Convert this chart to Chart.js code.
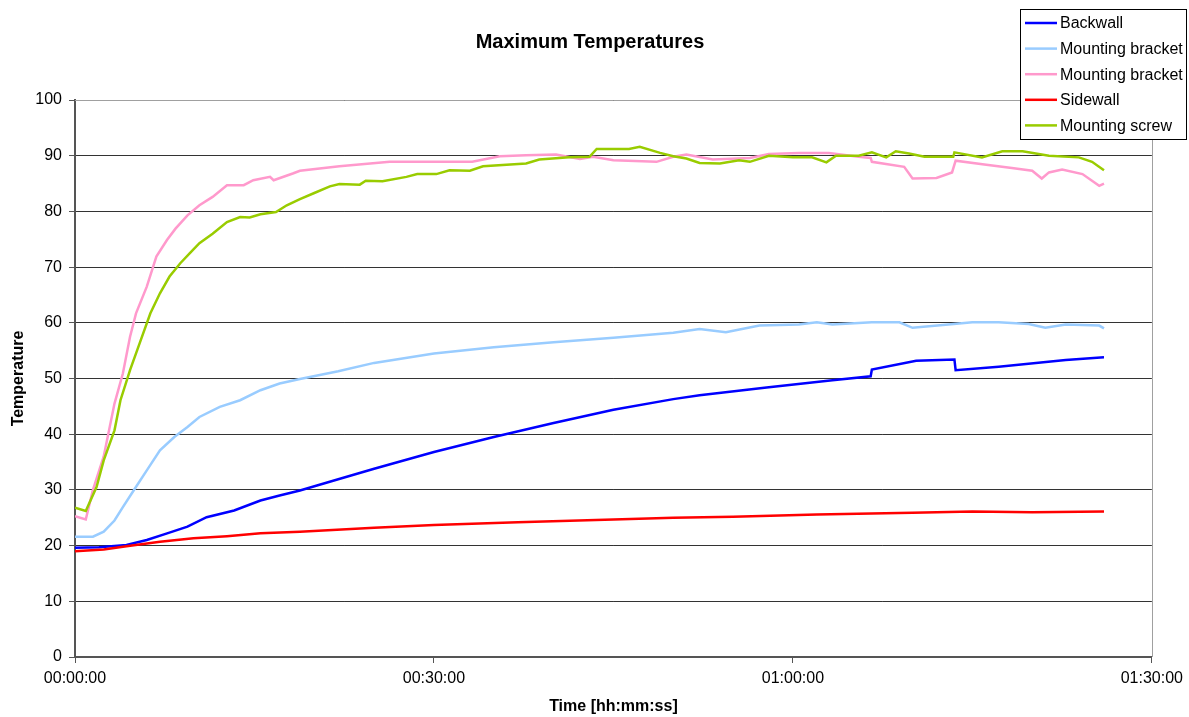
<!DOCTYPE html>
<html>
<head>
<meta charset="utf-8">
<script src="https://cdn.jsdelivr.net/npm/chart.js@4.4.1/dist/chart.umd.min.js"></script>
<style>
  html, body { margin: 0; padding: 0; background: #fff; }
  #wrap { width: 1189px; height: 717px; position: relative; }
</style>
</head>
<body>
<div id="wrap"><canvas id="chart"></canvas></div>
<script>
// time in minutes, temperatures
const backwallT = [0, 2, 4.3, 6, 7.7, 9.4, 11, 13.3, 15.5, 17.1, 18.8, 22, 25, 30, 35, 40, 45, 50, 52.2, 57.8, 63.3, 66.5, 66.6, 70.3, 73.5, 73.6, 77.2, 82.8, 86];
const backwallY = [19.6, 19.7, 20.1, 21.0, 22.2, 23.4, 25.1, 26.3, 28.1, 29.0, 29.9, 31.9, 33.8, 36.8, 39.5, 42, 44.4, 46.3, 47.0, 48.4, 49.7, 50.4, 51.6, 53.2, 53.4, 51.5, 52.1, 53.3, 53.8];

const bracket1T = [0, 1.5, 2.4, 3.3, 4.0, 4.9, 6.0, 7.1, 8.3, 9.4, 10.4, 12.1, 13.8, 15.5, 17.1, 18.8, 22, 25, 30, 35, 40, 45, 50, 52.2, 54.4, 57.2, 60.5, 62, 63.3, 66.6, 68.9, 70, 73, 75, 77.2, 79.7, 81.1, 82.8, 85.6, 86];
const bracket1Y = [21.6, 21.6, 22.5, 24.5, 26.9, 29.9, 33.5, 37.1, 39.5, 41.3, 43.1, 44.9, 46.1, 47.9, 49.1, 49.9, 51.3, 52.8, 54.5, 55.6, 56.5, 57.3, 58.2, 58.9, 58.3, 59.5, 59.7, 60.1, 59.7, 60.1, 60.1, 59.1, 59.7, 60.1, 60.1, 59.8, 59.1, 59.7, 59.5, 59.0];

const bracket2T = [0, 0.9, 1.5, 2.4, 3.3, 4.0, 4.6, 5.1, 6.0, 6.8, 7.7, 8.4, 9.4, 10.4, 11.5, 12.7, 14.1, 14.9, 16.3, 16.6, 18.2, 18.8, 22.1, 26.3, 33.2, 35.5, 37.7, 40.2, 42.2, 43.3, 45, 48.6, 50, 51.1, 53.3, 56.4, 58, 60.5, 63, 65.5, 66.5, 66.6, 69.3, 70, 72, 73.3, 73.6, 76, 78.3, 80, 80.8, 81.4, 82.5, 84.2, 85.6, 86];
const bracket2Y = [25.3, 24.7, 30, 36, 45.5, 50.9, 57.5, 61.7, 66.5, 71.9, 74.9, 76.9, 79.3, 81.1, 82.6, 84.7, 84.7, 85.6, 86.2, 85.6, 86.8, 87.3, 88.1, 88.9, 88.9, 89.9, 90.1, 90.2, 89.4, 89.8, 89.2, 88.9, 89.8, 90.2, 89.3, 89.6, 90.3, 90.5, 90.5, 89.8, 89.6, 88.9, 88.0, 85.9, 86.0, 87.0, 89.1, 88.4, 87.8, 87.3, 85.9, 87.0, 87.5, 86.7, 84.6, 85.0];

const sidewallT = [0, 2.4, 4.3, 7.1, 9.9, 12.7, 15.5, 18.8, 25, 30, 37, 45, 50, 55, 62, 70, 75, 80, 86];
const sidewallY = [19.0, 19.3, 19.9, 20.7, 21.3, 21.7, 22.2, 22.5, 23.2, 23.7, 24.2, 24.7, 25.0, 25.2, 25.6, 25.9, 26.1, 26.0, 26.1];

const screwT = [0, 0.9, 1.8, 2.4, 3.3, 3.8, 4.6, 5.4, 6.3, 7.1, 7.9, 8.8, 9.6, 10.4, 11.5, 12.7, 13.8, 14.6, 15.5, 16.8, 17.7, 18.8, 20, 21.3, 22.1, 23.8, 24.3, 25.7, 27.7, 28.6, 30.2, 31.3, 33, 34.1, 37.7, 38.8, 41.3, 43, 43.6, 46.3, 47.2, 48.9, 50, 51.1, 52.2, 53.9, 55.5, 56.4, 58, 60, 61.6, 62.8, 63.6, 65.5, 66.6, 67.8, 68.6, 69.7, 71, 73.4, 73.5, 75.8, 77.5, 79.2, 81.4, 83.9, 85, 86];
const screwY = [26.8, 26.2, 30.5, 35.3, 40.7, 46.1, 51.5, 56.3, 61.7, 65.3, 68.3, 70.7, 72.5, 74.3, 76.0, 78.1, 79.0, 78.9, 79.5, 79.9, 81.1, 82.2, 83.3, 84.5, 84.9, 84.8, 85.5, 85.4, 86.2, 86.7, 86.7, 87.4, 87.3, 88.1, 88.6, 89.3, 89.7, 89.8, 91.2, 91.2, 91.6, 90.5, 89.9, 89.5, 88.7, 88.6, 89.2, 88.9, 90, 89.7, 89.7, 88.8, 90, 90, 90.6, 89.7, 90.8, 90.4, 89.8, 89.8, 90.6, 89.7, 90.8, 90.8, 90, 89.7, 88.9, 87.4];

const seriesNames = ['Backwall', 'Mounting bracket', 'Mounting bracket', 'Sidewall', 'Mounting screw'];
const seriesColors = ['#0000FF', '#99CCFF', '#FF99CC', '#FF0000', '#99CC00'];
const seriesTimes = [backwallT, bracket1T, bracket2T, sidewallT, screwT];
const seriesValues = [backwallY, bracket1Y, bracket2Y, sidewallY, screwY];

const xTicks = [0, 30, 60, 90];   // minutes
const yMin = 0, yMax = 100, yStep = 10;

const FONT = 'Arial, "Liberation Sans", sans-serif';

// hh:mm:ss aus Minuten
const fmtTime = (m) => {
  const h = Math.floor(m / 60);
  const mm = Math.round(m % 60);
  return String(h).padStart(2, '0') + ':' + String(mm).padStart(2, '0') + ':00';
};

const datasets = seriesNames.map((name, i) => ({
  label: name,
  data: seriesTimes[i].map((t, k) => ({ x: t, y: seriesValues[i][k] })),
  borderColor: seriesColors[i],
  backgroundColor: seriesColors[i],
  borderWidth: 2.5,
  pointRadius: 0,
  tension: 0,
  fill: false,
  order: seriesNames.length - i,
}));

// plot frame, title, axis titles and boxed legend
const decorations = {
  id: 'decorations',
  beforeDatasetsDraw(chart) {
    const { ctx, chartArea: a } = chart;
    ctx.save();
    ctx.strokeStyle = '#a0a0a0';
    ctx.lineWidth = 1;
    ctx.beginPath();
    ctx.moveTo(a.left, Math.round(a.top) + 0.5);
    ctx.lineTo(Math.round(a.right) + 0.5, Math.round(a.top) + 0.5);
    ctx.lineTo(Math.round(a.right) + 0.5, a.bottom);
    ctx.stroke();
    ctx.restore();
  },
  afterDraw(chart) {
    const { ctx, chartArea: a } = chart;
    ctx.save();
    ctx.fillStyle = '#000';
    ctx.textAlign = 'center';
    ctx.textBaseline = 'middle';

    ctx.font = 'bold 20px ' + FONT;
    ctx.fillText('Maximum Temperatures', 590, 42);

    ctx.font = 'bold 16px ' + FONT;
    ctx.fillText('Time [hh:mm:ss]', (a.left + a.right) / 2, 707);

    ctx.save();
    ctx.translate(19, (a.top + a.bottom) / 2);
    ctx.rotate(-Math.PI / 2);
    ctx.fillText('Temperature', 0, 0);
    ctx.restore();

    // legend
    const bx = 1020.5, by = 9.5, bw = 166, bh = 130;
    ctx.fillStyle = '#fff';
    ctx.fillRect(bx, by, bw, bh);
    ctx.strokeStyle = '#000';
    ctx.lineWidth = 1;
    ctx.strokeRect(bx, by, bw, bh);
    ctx.font = '16px ' + FONT;
    ctx.textAlign = 'left';
    chart.data.datasets.forEach((ds, i) => {
      const cy = 23 + i * 25.6;
      ctx.strokeStyle = ds.borderColor;
      ctx.lineWidth = 2.5;
      ctx.beginPath();
      ctx.moveTo(1025, cy);
      ctx.lineTo(1057, cy);
      ctx.stroke();
      ctx.fillStyle = '#000';
      ctx.fillText(ds.label, 1060, cy + 1);
    });
    ctx.restore();
  },
};

new Chart(document.getElementById('chart'), {
  type: 'line',
  data: { datasets },
  options: {
    responsive: true,
    maintainAspectRatio: false,
    animation: false,
    layout: { padding: { left: 0, top: 100, right: 36, bottom: 0 } },
    plugins: {
      legend: { display: false },
      title: { display: false },
      tooltip: { enabled: false },
    },
    scales: {
      x: {
        type: 'linear',
        min: xTicks[0],
        max: xTicks[xTicks.length - 1],
        afterBuildTicks: (scale) => { scale.ticks = xTicks.map((v) => ({ value: v })); },
        afterFit: (scale) => { scale.height = 60; },
        ticks: {
          callback: (v) => fmtTime(v),
          color: '#000',
          font: { family: FONT, size: 16 },
          padding: 6,
          maxRotation: 0,
          autoSkip: false,
        },
        grid: {
          drawOnChartArea: false,
          drawTicks: true,
          tickLength: 6,
          color: '#555',
        },
        border: { color: '#555', width: 2 },
      },
      y: {
        min: yMin,
        max: yMax,
        afterFit: (scale) => { scale.width = 75; },
        ticks: {
          stepSize: yStep,
          color: '#000',
          font: { family: FONT, size: 16 },
          padding: 7,
        },
        grid: {
          color: '#333',
          lineWidth: 1,
          drawTicks: true,
          tickLength: 6,
          tickColor: '#555',
        },
        border: { color: '#555', width: 2 },
      },
    },
  },
  plugins: [decorations],
});
</script>
</body>
</html>
